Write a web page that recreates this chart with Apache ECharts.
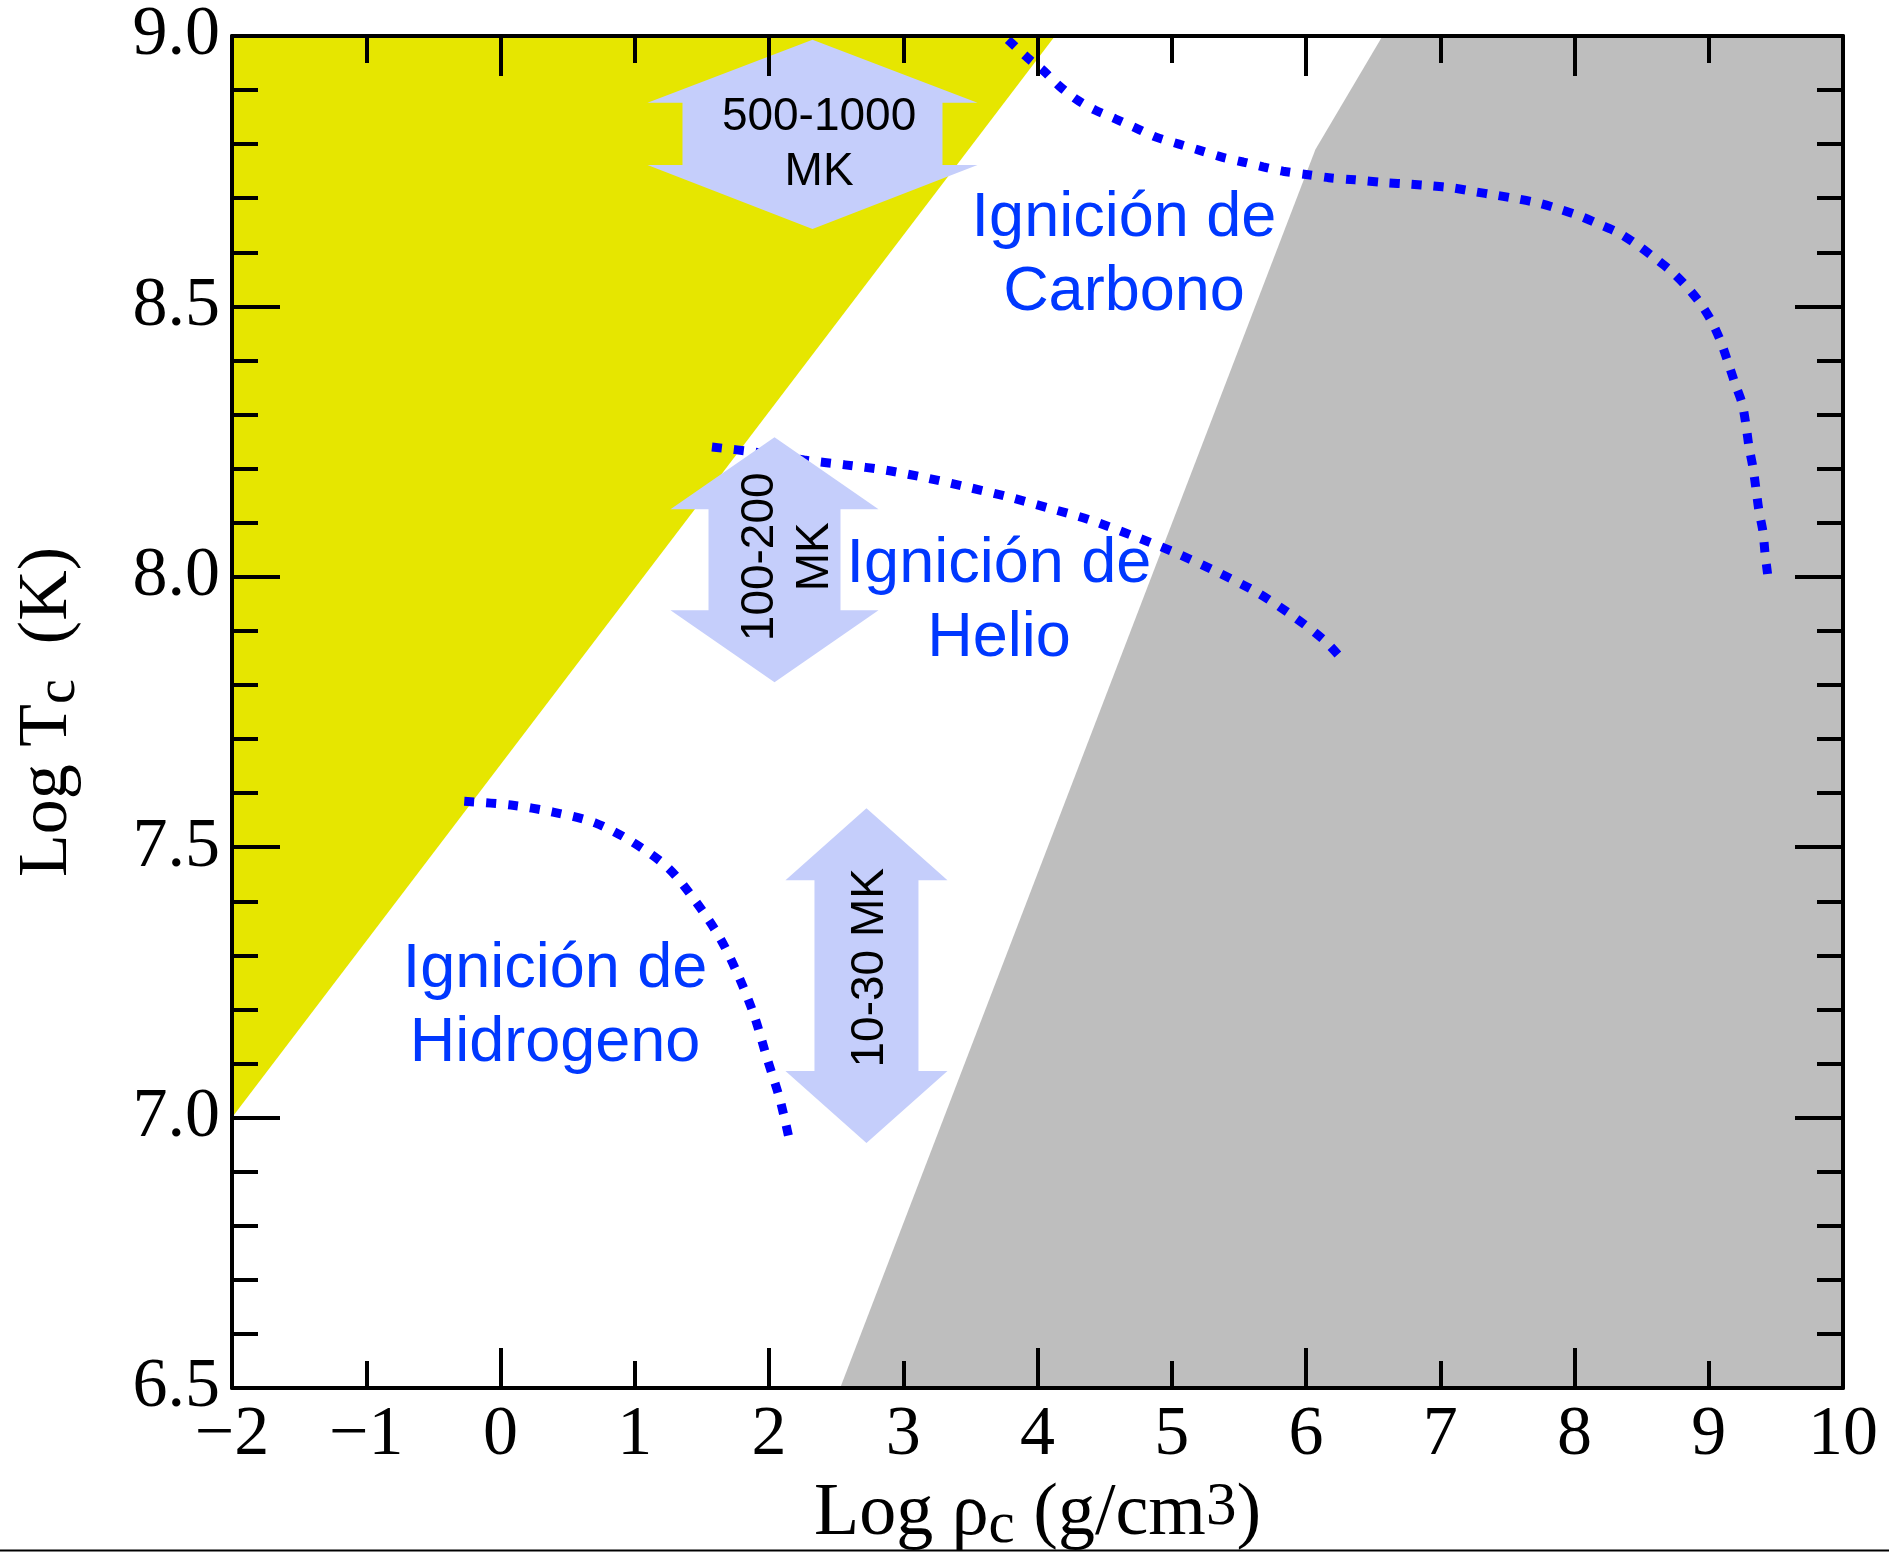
<!DOCTYPE html>
<html>
<head>
<meta charset="utf-8">
<script src="https://cdn.jsdelivr.net/npm/echarts@6/dist/echarts.min.js"></script>
<style>
  html, body { margin: 0; padding: 0; background: #ffffff; }
  #chart { width: 1889px; height: 1552px; }
</style>
</head>
<body>
<div id="chart"></div>
<script>
// Axis ranges: central density (log g/cm^3) and central temperature (log K)
const xRange = [-2, 10];
const yRange = [6.5, 9.0];

// Radiation-pressure dominated region (upper left)
const radiationBoundary = [[-2, 7.0], [4.13, 9.0]];
// Degenerate region (right); filled down to the bottom of the axis
const degenerateBoundary = [[2.53, 6.5], [6.07, 8.79], [6.57, 9.0], [10, 9.0]];

// Ignition curves [log rho, log T]
const hydrogenIgnition = [
  [-0.27, 7.585], [0.078, 7.578], [0.391, 7.565], [0.704, 7.545], [0.98, 7.51],
  [1.248, 7.462], [1.456, 7.399], [1.635, 7.332], [1.769, 7.264], [1.888, 7.19],
  [1.985, 7.11], [2.082, 7.033], [2.155, 6.955]
];
const heliumIgnition = [
  [1.575, 8.24], [1.881, 8.231], [2.261, 8.216], [2.566, 8.207], [2.872, 8.197],
  [3.17, 8.183], [3.475, 8.166], [3.78, 8.148], [4.086, 8.127], [4.391, 8.105],
  [4.73, 8.074], [5.032, 8.044], [5.337, 8.009], [5.643, 7.97], [5.911, 7.926],
  [6.134, 7.883], [6.26, 7.85]
];
const carbonIgnition = [
  [3.78, 8.993], [3.929, 8.959], [4.048, 8.935], [4.16, 8.908], [4.294, 8.882],
  [4.428, 8.863], [4.577, 8.847], [4.73, 8.83], [4.883, 8.813], [5.054, 8.8],
  [5.203, 8.789], [5.374, 8.776], [5.531, 8.767], [5.68, 8.758], [5.829, 8.75],
  [6.0, 8.744], [6.171, 8.738], [6.365, 8.734], [6.588, 8.729], [6.775, 8.726],
  [6.935, 8.723], [7.095, 8.719], [7.259, 8.712], [7.408, 8.706], [7.572, 8.699],
  [7.732, 8.691], [7.885, 8.68], [8.041, 8.667], [8.183, 8.652], [8.328, 8.636],
  [8.466, 8.614], [8.6, 8.589], [8.726, 8.564], [8.838, 8.536], [8.942, 8.504],
  [9.024, 8.471], [9.091, 8.434], [9.143, 8.397], [9.195, 8.358], [9.248, 8.321],
  [9.277, 8.281], [9.3, 8.24], [9.33, 8.201], [9.352, 8.162], [9.374, 8.122],
  [9.404, 8.083], [9.419, 8.044], [9.441, 8.0]
];

// Temperature-range arrows: [centre log rho, lower tip log T, upper tip log T]
const arrowSpans = [[2.324, 8.643, 8.993], [2.041, 7.805, 8.258], [2.726, 6.953, 7.572]];
const arrowTexts = ['500-1000\nMK', '100-200\nMK', '10-30 MK'];
const arrowTextAnchors = [[2.373, 8.799], [2.142, 8.037], [2.752, 7.277]];

// Ignition labels and their anchors
const ignitionTexts = ['Ignición de\nCarbono', 'Ignición de\nHelio', 'Ignición de\nHidrogeno'];
const ignitionAnchors = [[4.644, 8.594], [3.713, 7.954], [0.406, 7.205]];

// Arrow outline sizes in pixels
const arrowShapes = [
  { head: 165, shaft: 130, headTop: 63, headBottom: 64, rotate: false },
  { head: 104, shaft: 66, headTop: 72, headBottom: 72, rotate: true },
  { head: 81, shaft: 52, headTop: 72, headBottom: 72, rotate: true }
];

const SERIF = '"Liberation Serif", "Times New Roman", serif';
const SANS = '"Liberation Sans", Arial, sans-serif';
const AXIS_W = 4;

// Axis titles: main text, subscript (pushed down by top padding) and superscript
function titleRich(size) {
  const k = size / 70;
  return {
    a: { fontFamily: SERIF, fontSize: size, lineHeight: Math.round(72 * k), verticalAlign: 'middle', color: '#000' },
    s: { fontFamily: SERIF, fontSize: Math.round(56 * k), lineHeight: Math.round(72 * k), verticalAlign: 'top',
         padding: [Math.round(19 * k), 0, 0, 0], color: '#000' },
    p: { fontFamily: SERIF, fontSize: Math.round(58 * k), lineHeight: Math.round(72 * k), verticalAlign: 'top',
         padding: [0, 0, 0, 0], color: '#000' }
  };
}

function xAxisDef(position, interval, tickLen, withLabels, showLine, extra) {
  return Object.assign({
    type: 'value', min: xRange[0], max: xRange[1], interval: interval,
    position: position, z: 10,
    axisLine: { show: showLine, onZero: false, lineStyle: { color: '#000', width: AXIS_W } },
    axisTick: { show: true, inside: true, length: tickLen, lineStyle: { color: '#000', width: 4 } },
    axisLabel: withLabels ? {
      show: true, margin: 13, color: '#000', fontFamily: SERIF, fontSize: 70,
      formatter: v => (v < 0 ? '\u2212' + Math.abs(v) : String(v))
    } : { show: false },
    splitLine: { show: false }
  }, extra || {});
}

function yAxisDef(position, withLabels, extra) {
  return Object.assign({
    type: 'value', min: yRange[0], max: yRange[1], interval: 0.5,
    position: position, z: 10,
    axisLine: { show: true, onZero: false, lineStyle: { color: '#000', width: AXIS_W } },
    axisTick: { show: true, inside: true, length: 48, lineStyle: { color: '#000', width: 4 } },
    minorTick: { show: true, splitNumber: 5, length: 26, lineStyle: { color: '#000', width: 4 } },
    axisLabel: withLabels ? {
      show: true, margin: 12, color: '#000', fontFamily: SERIF, fontSize: 70,
      formatter: v => v.toFixed(1)
    } : { show: false },
    splitLine: { show: false },
    minorSplitLine: { show: false }
  }, extra || {});
}

const chart = echarts.init(document.getElementById('chart'), null, { renderer: 'canvas' });

const curveStyle = { color: '#0000FF', width: 9, type: [10, 12], cap: 'butt' };

chart.setOption({
  animation: false,
  backgroundColor: '#ffffff',
  grid: { left: 232, right: 46, top: 36, bottom: 164, containLabel: false, outerBoundsMode: 'none' },
  xAxis: [
    xAxisDef('bottom', 1, 27, true, true, {
      name: '{a|Log ρ}{s|c}{a| (g/cm}{p|3}{a|)}',
      nameLocation: 'middle', nameGap: 89, nameMoveOverlap: false,
      nameTextStyle: { fontFamily: SERIF, fontSize: 74, color: '#000', rich: titleRich(74) }
    }),
    xAxisDef('bottom', 2, 40, false, false),
    xAxisDef('top', 1, 27, false, true),
    xAxisDef('top', 2, 40, false, false)
  ],
  yAxis: [
    yAxisDef('left', true, {
      name: '{a|Log T}{s|c}{a|  (K)}',
      nameLocation: 'middle', nameGap: 148, nameRotate: 90, nameMoveOverlap: false,
      nameTextStyle: { fontFamily: SERIF, fontSize: 70, color: '#000', rich: titleRich(70) }
    }),
    yAxisDef('right', false)
  ],
  graphic: [
    {
      type: 'line', z: 20,
      shape: { x1: 0, y1: 1550.5, x2: 1889, y2: 1550.5 },
      style: { stroke: '#000', lineWidth: 2 }
    }
  ],
  series: [
    {
      name: 'radiation', type: 'line', xAxisIndex: 0, yAxisIndex: 0, z: 1,
      data: radiationBoundary, showSymbol: false, symbol: 'none', silent: true,
      lineStyle: { width: 0, opacity: 0 },
      areaStyle: { color: '#E6E600', opacity: 1, origin: 'end' }
    },
    {
      name: 'degenerate', type: 'line', xAxisIndex: 0, yAxisIndex: 0, z: 1,
      data: degenerateBoundary, showSymbol: false, symbol: 'none', silent: true,
      lineStyle: { width: 0, opacity: 0 },
      areaStyle: { color: '#BEBEBE', opacity: 1, origin: 'start' }
    },
    {
      name: 'H', type: 'line', z: 3, data: hydrogenIgnition, symbol: 'none',
      smooth: 0.3, lineStyle: curveStyle, silent: true
    },
    {
      name: 'He', type: 'line', z: 3, data: heliumIgnition, symbol: 'none',
      smooth: 0.3, lineStyle: curveStyle, silent: true
    },
    {
      name: 'C', type: 'line', z: 3, data: carbonIgnition, symbol: 'none',
      smooth: 0.3, lineStyle: curveStyle, silent: true
    },
    {
      name: 'ranges', type: 'custom', z: 4, silent: true, clip: false,
      data: arrowSpans.map((a, i) => a.concat(arrowTextAnchors[i])),
      renderItem: function (params, api) {
        const s = arrowShapes[params.dataIndex];
        const top = api.coord([api.value(0), api.value(2)]);
        const bot = api.coord([api.value(0), api.value(1)]);
        const x = top[0];
        const yT = top[1], yB = bot[1];
        const pts = [
          [x, yT],
          [x + s.head, yT + s.headTop], [x + s.shaft, yT + s.headTop],
          [x + s.shaft, yB - s.headBottom], [x + s.head, yB - s.headBottom],
          [x, yB],
          [x - s.head, yB - s.headBottom], [x - s.shaft, yB - s.headBottom],
          [x - s.shaft, yT + s.headTop], [x - s.head, yT + s.headTop]
        ];
        const t = api.coord([api.value(3), api.value(4)]);
        return {
          type: 'group',
          children: [
            { type: 'polygon', shape: { points: pts }, style: { fill: '#C5CEFB' } },
            {
              type: 'text', x: t[0], y: t[1],
              rotation: s.rotate ? Math.PI / 2 : 0,
              style: {
                text: arrowTexts[params.dataIndex], fill: '#000',
                fontFamily: SANS, fontSize: 46, lineHeight: 55,
                align: 'center', verticalAlign: 'middle'
              }
            }
          ]
        };
      }
    },
    {
      name: 'labels', type: 'custom', z: 5, silent: true, clip: false,
      data: ignitionAnchors,
      renderItem: function (params, api) {
        const p = api.coord([api.value(0), api.value(1)]);
        return {
          type: 'text', x: p[0], y: p[1],
          style: {
            text: ignitionTexts[params.dataIndex], fill: '#0038FF',
            fontFamily: SANS, fontSize: 63, lineHeight: 74,
            align: 'center', verticalAlign: 'middle'
          }
        };
      }
    }
  ]
});
</script>
</body>
</html>
